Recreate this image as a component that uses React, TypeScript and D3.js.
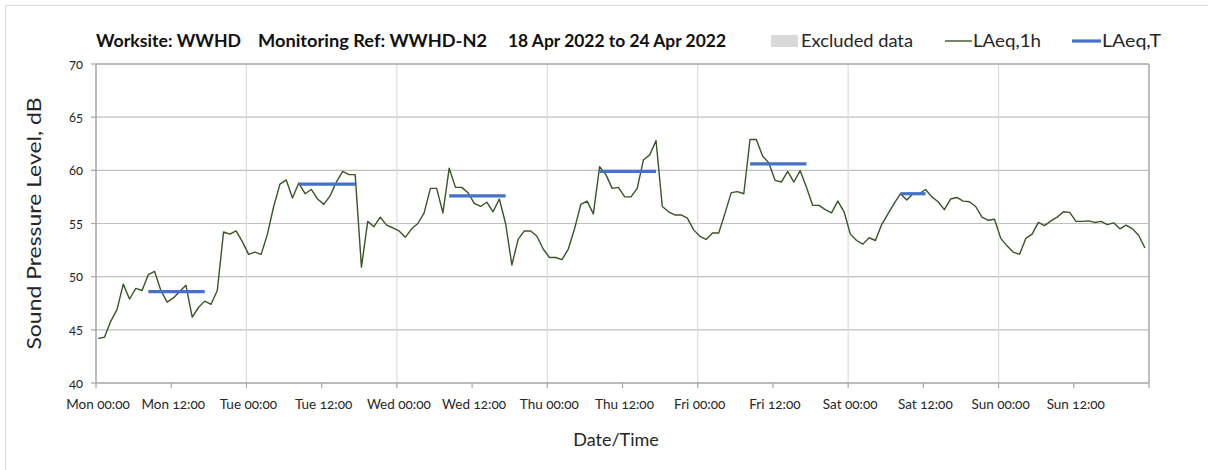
import * as d3 from 'd3'

// hourly LAeq,1h values, Mon 18 Apr 2022 00:00 onwards
const lAeq1h = [
  44.2, 44.3, 45.8, 46.9, 49.3, 47.9, 48.9, 48.7, 50.2, 50.5, 48.7, 47.6,
  48.0, 48.6, 49.2, 46.2, 47.1, 47.7, 47.4, 48.7, 54.2, 54.0, 54.3, 53.3,
  52.1, 52.3, 52.1, 54.0, 56.6, 58.7, 59.1, 57.4, 58.8, 57.8, 58.2, 57.3,
  56.8, 57.6, 58.9, 59.9, 59.6, 59.6, 50.9, 55.2, 54.7, 55.6, 54.85, 54.6,
  54.3, 53.7, 54.5, 55.0, 56.0, 58.3, 58.3, 56.0, 60.2, 58.4, 58.4, 57.9,
  56.9, 56.6, 57.0, 56.1, 57.3, 55.0, 51.1, 53.5, 54.3, 54.3, 53.8, 52.6,
  51.8, 51.8, 51.6, 52.6, 54.5, 56.8, 57.1, 55.9, 60.35, 59.6, 58.3, 58.4,
  57.5, 57.5, 58.3, 61.0, 61.45, 62.8, 56.6, 56.1, 55.8, 55.8, 55.5, 54.4,
  53.8, 53.5, 54.1, 54.1, 55.95, 57.9, 58.0, 57.8, 62.9, 62.9, 61.35, 60.7,
  59.05, 58.9, 59.9, 58.9, 59.97, 58.4, 56.7, 56.7, 56.3, 56.0, 57.1, 56.1,
  54.0, 53.4, 53.06, 53.66, 53.4, 54.9, 55.9, 56.9, 57.8, 57.2, 57.8, 57.8,
  58.2, 57.5, 57.05, 56.3, 57.3, 57.45, 57.1, 57.05, 56.6, 55.6, 55.3, 55.4,
  53.6, 52.9, 52.3, 52.1, 53.6, 54.0, 55.1, 54.8, 55.25, 55.6, 56.1, 56.05,
  55.2, 55.2, 55.25, 55.1, 55.2, 54.9, 55.06, 54.5, 54.85, 54.5, 53.9, 52.7,
]

// daytime LAeq,T periods: day index, start hour, end hour, level
const periodDays = [0, 1, 2, 3, 4, 5]
const periodStart = [8, 8, 8, 8, 8, 8]
const periodEnd = [17, 17, 17, 17, 17, 12]
const periodLevel = [48.6, 58.7, 57.6, 59.9, 60.6, 57.8]

const yTicks = [40, 45, 50, 55, 60, 65, 70]
const sampleOffsetMin = 21

const start = new Date(2022, 3, 18, 0, 0)
const end = new Date(2022, 3, 25, 0, 0)
const hourAt = (h: number) => new Date(start.getTime() + h * 3600 * 1000 + sampleOffsetMin * 60 * 1000)

const W = 1208
const H = 470
const margin = { left: 96, right: 59, top: 64, bottom: 87 }
const font = 'Lato, "Open Sans", sans-serif'

export default function App() {
  const x = d3.scaleTime().domain([start, end]).range([margin.left, W - margin.right])
  const y = d3.scaleLinear().domain([40, 70]).range([H - margin.bottom, margin.top])

  const xTicks = d3.timeHour.every(12)!.range(start, new Date(end.getTime() + 1))
  const dayTicks = d3.timeDay.range(d3.timeDay.offset(start, 1), end)
  const fmt = d3.timeFormat('%a %H:%M')

  const line = d3.line<number>()
    .x((_, i) => x(hourAt(i)))
    .y(d => y(d))

  const x0 = margin.left
  const x1 = W - margin.right
  const yB = y(40)
  const yT = y(70)
  const axisCol = '#a6a6a6'

  return (
    <svg width={W} height={H} style={{ position: 'absolute', left: 0, top: 0, background: '#fff' }}
      fontFamily={font}>
      <rect x={5.5} y={5.5} width={W - 1} height={H} fill="#fff" stroke="#d9d9d9" />

      {/* gridlines */}
      {yTicks.slice(1, -1).map(t => (
        <line key={t} x1={x0} x2={x1} y1={y(t)} y2={y(t)} stroke="#bfbfbf" strokeWidth={1.2} />
      ))}
      {dayTicks.map(d => (
        <line key={+d} x1={x(d)} x2={x(d)} y1={yT} y2={yB} stroke="#dcdcdc" strokeWidth={1.2} />
      ))}

      {/* plot frame */}
      <line x1={x0} x2={x1} y1={yT} y2={yT} stroke={axisCol} strokeWidth={1.5} />
      <line x1={x1} x2={x1} y1={yT} y2={yB} stroke={axisCol} strokeWidth={1.5} />
      <line x1={x0} x2={x1} y1={yB} y2={yB} stroke={axisCol} strokeWidth={1.5} />
      <line x1={x0} x2={x0} y1={yT} y2={yB} stroke={axisCol} strokeWidth={1.5} />

      {/* y axis */}
      {yTicks.map(t => (
        <g key={t}>
          <line x1={x0 - 5} x2={x0} y1={y(t)} y2={y(t)} stroke={axisCol} strokeWidth={1.2} />
          <text x={x0 - 13} y={y(t)} dy="0.35em" textAnchor="end" fontSize={13} fill="#262626"
            style={{ fontVariantNumeric: 'oldstyle-nums' }}>{t}</text>
        </g>
      ))}
      <text transform={`translate(41,${(yT + yB) / 2}) rotate(-90)`} textAnchor="middle" fontSize={19}
        fill="#262626" textLength={252} lengthAdjust="spacingAndGlyphs">Sound Pressure Level, dB</text>

      {/* x axis */}
      {xTicks.map((t, i) => (
        <g key={+t}>
          <line x1={x(t)} x2={x(t)} y1={yB} y2={yB + 5} stroke={axisCol} strokeWidth={1.2} />
          {i < xTicks.length - 1 && (
            <text x={x(t) + 2} y={yB + 26} textAnchor="middle" fontSize={13.5} fill="#262626"
              style={{ fontVariantNumeric: 'oldstyle-nums' }}>{fmt(t)}</text>
          )}
        </g>
      ))}
      <text x={616} y={446} textAnchor="middle" fontSize={18} fill="#262626">Date/Time</text>

      {/* series */}
      <path d={line(lAeq1h) ?? ''} fill="none" stroke="#375623" strokeWidth={1.4} strokeLinejoin="round" />
      {periodDays.map((d, i) => (
        <line key={i}
          x1={x(hourAt(d * 24 + periodStart[i]))} x2={x(hourAt(d * 24 + periodEnd[i]))}
          y1={y(periodLevel[i])} y2={y(periodLevel[i])}
          stroke="#4472c4" strokeWidth={3.2} />
      ))}

      {/* title */}
      <g fontWeight="bold" fontSize={16.5} fill="#111">
        <text x={96} y={47} textLength={145} lengthAdjust="spacingAndGlyphs">Worksite: WWHD</text>
        <text x={258} y={47} textLength={229} lengthAdjust="spacingAndGlyphs">Monitoring Ref: WWHD-N2</text>
        <text x={508} y={47} textLength={218} lengthAdjust="spacingAndGlyphs">18 Apr 2022 to 24 Apr 2022</text>
      </g>

      {/* legend */}
      <g fontSize={18} fill="#262626">
        <rect x={771} y={35} width={27} height={12} fill="#d9d9d9" />
        <text x={801} y={47} textLength={112} lengthAdjust="spacingAndGlyphs">Excluded data</text>
        <line x1={945} x2={972} y1={41} y2={41} stroke="#375623" strokeWidth={1.4} />
        <text x={973} y={47} textLength={68} lengthAdjust="spacingAndGlyphs">LAeq,1h</text>
        <line x1={1072} x2={1101} y1={41} y2={41} stroke="#4472c4" strokeWidth={3.2} />
        <text x={1102} y={47} textLength={59} lengthAdjust="spacingAndGlyphs">LAeq,T</text>
      </g>
    </svg>
  )
}
